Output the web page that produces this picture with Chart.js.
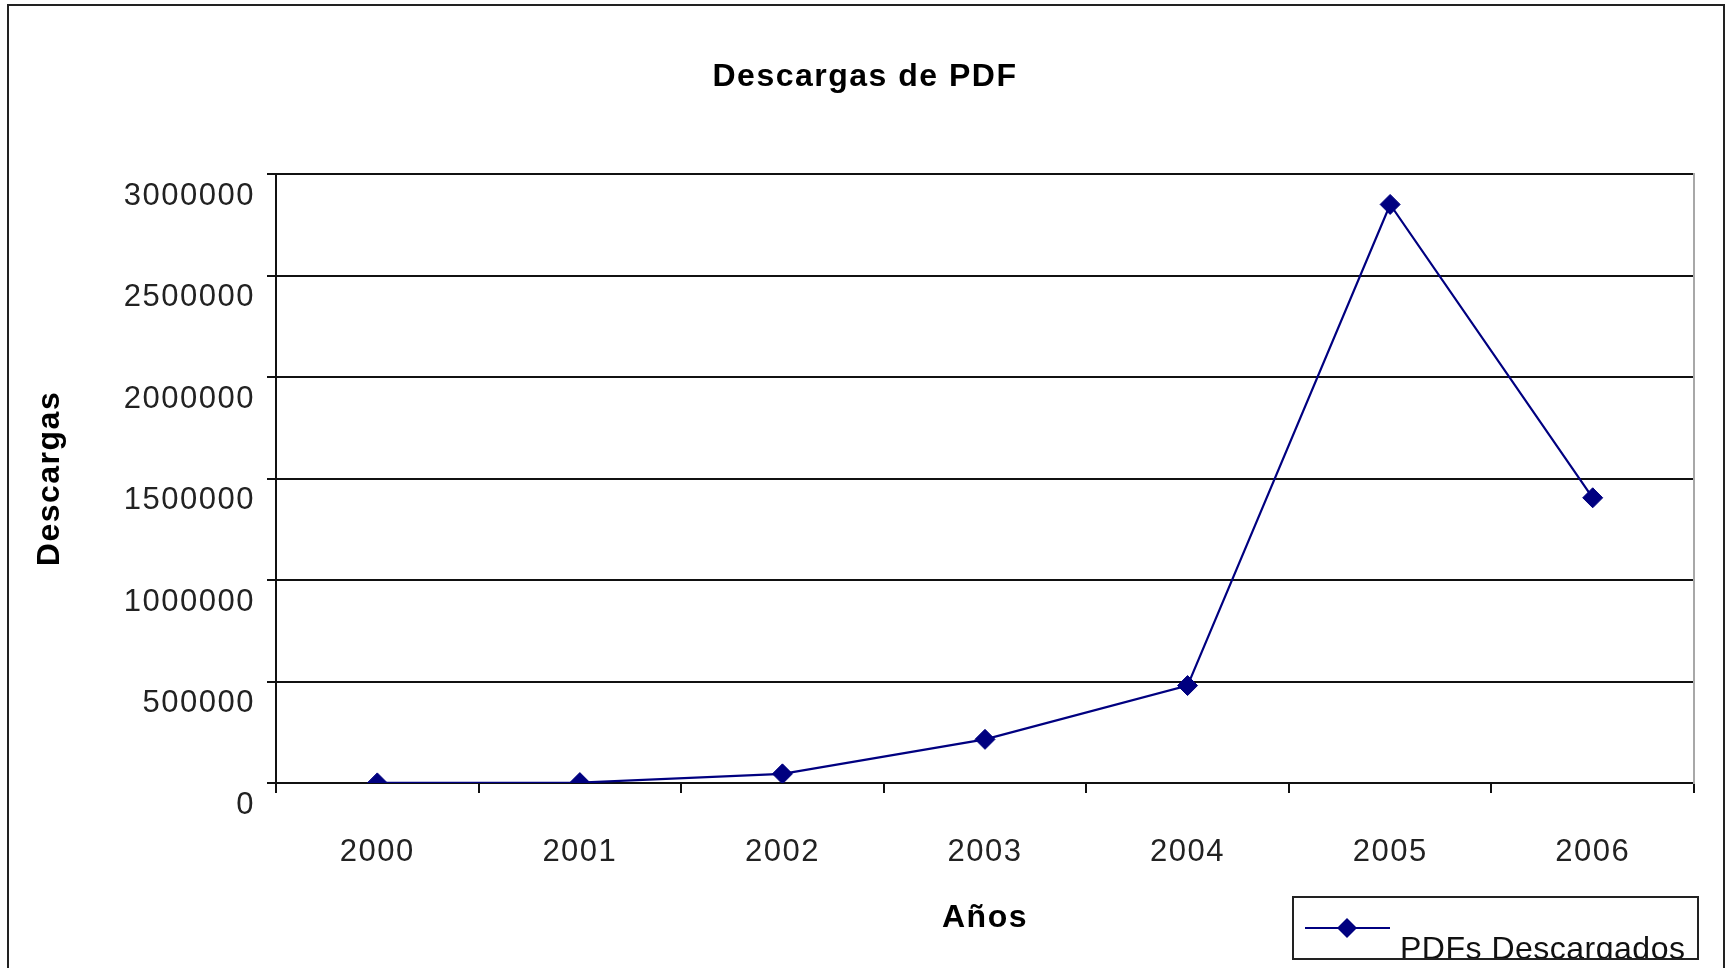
<!DOCTYPE html>
<html>
<head>
<meta charset="utf-8">
<title>Descargas de PDF</title>
<script src="https://cdn.jsdelivr.net/npm/chart.js@4.4.1/dist/chart.umd.min.js"></script>
<style>
  html, body { margin: 0; padding: 0; background: #fff; }
  #wrap { width: 1730px; height: 968px; position: relative; }
</style>
</head>
<body>
<div id="wrap"><canvas id="pdf-chart" width="1730" height="968"></canvas></div>
<script>
// data
const years = ["2000", "2001", "2002", "2003", "2004", "2005", "2006"];
const downloads = [500, 2000, 45000, 215000, 480000, 2850000, 1405000];
const yTicks = [0, 500000, 1000000, 1500000, 2000000, 2500000, 3000000];

const FONT = "'Liberation Sans', Arial, sans-serif";
const NAVY = "#000080";

// outer frame, wider letter spacing and the little legend box
const framePlugin = {
  id: "frame",
  beforeLayout(chart) {
    chart.ctx.letterSpacing = "1.5px";
  },
  beforeDraw(chart) {
    const ctx = chart.ctx;
    ctx.letterSpacing = "1.5px";
    ctx.save();
    ctx.fillStyle = "#fff";
    ctx.fillRect(0, 0, chart.width, chart.height);
    ctx.restore();
  },
  afterDraw(chart) {
    const ctx = chart.ctx;
    ctx.save();
    // frame
    ctx.strokeStyle = "#222";
    ctx.lineWidth = 2;
    ctx.strokeRect(8, 5, 1716, 980);

    // legend
    const ds = chart.data.datasets[0];
    const bx = 1293, by = 897, bw = 405, bh = 62;
    ctx.fillStyle = "#fff";
    ctx.fillRect(bx, by, bw, bh);
    ctx.strokeStyle = "#222";
    ctx.lineWidth = 2;
    ctx.strokeRect(bx, by, bw, bh);

    ctx.strokeStyle = ds.borderColor;
    ctx.lineWidth = 2;
    ctx.beginPath();
    ctx.moveTo(bx + 12, by + 31);
    ctx.lineTo(bx + 97, by + 31);
    ctx.stroke();
    ctx.fillStyle = ds.pointBackgroundColor;
    ctx.beginPath();
    ctx.moveTo(bx + 44, by + 31);
    ctx.lineTo(bx + 54, by + 21);
    ctx.lineTo(bx + 64, by + 31);
    ctx.lineTo(bx + 54, by + 41);
    ctx.closePath();
    ctx.fill();

    ctx.beginPath();
    ctx.rect(bx + 1, by + 1, bw - 2, bh - 2);
    ctx.clip();
    ctx.fillStyle = "#111";
    ctx.font = "32px " + FONT;
    ctx.letterSpacing = "0.5px";
    ctx.textBaseline = "alphabetic";
    ctx.textAlign = "left";
    ctx.fillText(ds.label, bx + 107, by + 62);
    ctx.restore();
  }
};

const ctx = document.getElementById("pdf-chart");

const chartData = {
  labels: years,
  datasets: [
    {
      label: "PDFs Descargados",
      data: downloads,
      borderColor: NAVY,
      backgroundColor: NAVY,
      borderWidth: 2.2,
      pointStyle: "rectRot",
      pointRadius: 10,
      pointBackgroundColor: NAVY,
      pointBorderColor: NAVY,
      pointBorderWidth: 1,
      tension: 0,
    },
  ],
};

const config = {
  type: "line",
  data: chartData,
  plugins: [framePlugin],
  options: {
    responsive: false,
    animation: false,
    layout: { padding: 0 },
    plugins: {
      legend: { display: false },
      tooltip: { enabled: false },
      title: {
        display: true,
        text: "Descargas de PDF",
        color: "#000",
        font: { family: FONT, size: 32, weight: "bold" },
        padding: { top: 58, bottom: 77.6 },
      },
    },
    scales: {
      x: {
        type: "category",
        offset: true,
        afterFit(scale) { scale.height = 185; },
        grid: {
          offset: true,
          drawOnChartArea: false,
          drawTicks: true,
          tickLength: 10,
          color: "#111",
          lineWidth: 2,
        },
        border: { display: true, color: "#111", width: 2 },
        ticks: {
          color: "#222",
          font: { family: FONT, size: 31 },
          padding: 41,
          autoSkip: false,
          maxRotation: 0,
        },
        title: {
          display: true,
          text: "Años",
          color: "#000",
          font: { family: FONT, size: 32, weight: "bold" },
          padding: { top: 0, bottom: 31 },
        },
      },
      y: {
        min: 0,
        max: 3000000,
        afterFit(scale) { scale.width = 276; },
        afterBuildTicks(axis) {
          axis.ticks = yTicks.map((v) => ({ value: v }));
        },
        grid: {
          color: "#111",
          lineWidth: 2,
          drawTicks: true,
          tickLength: 9,
        },
        border: { display: true, color: "#111", width: 2 },
        ticks: {
          color: "#222",
          font: { family: FONT, size: 31 },
          padding: 12,
          labelOffset: 22,
          callback: (v) => String(v),
        },
        title: {
          display: true,
          text: "Descargas",
          color: "#000",
          font: { family: FONT, size: 32, weight: "bold" },
          padding: { top: 31, bottom: 0 },
        },
      },
      // empty right axis: keeps the right margin and draws the light plot edge
      yRight: {
        position: "right",
        min: 0,
        max: 3000000,
        afterFit(scale) { scale.width = 36; },
        grid: { display: false, drawTicks: false },
        ticks: { display: false },
        border: { display: true, color: "#a8a8a8", width: 2 },
      },
    },
  },
};

const pdfChart = new Chart(ctx, config);
</script>
</body>
</html>
